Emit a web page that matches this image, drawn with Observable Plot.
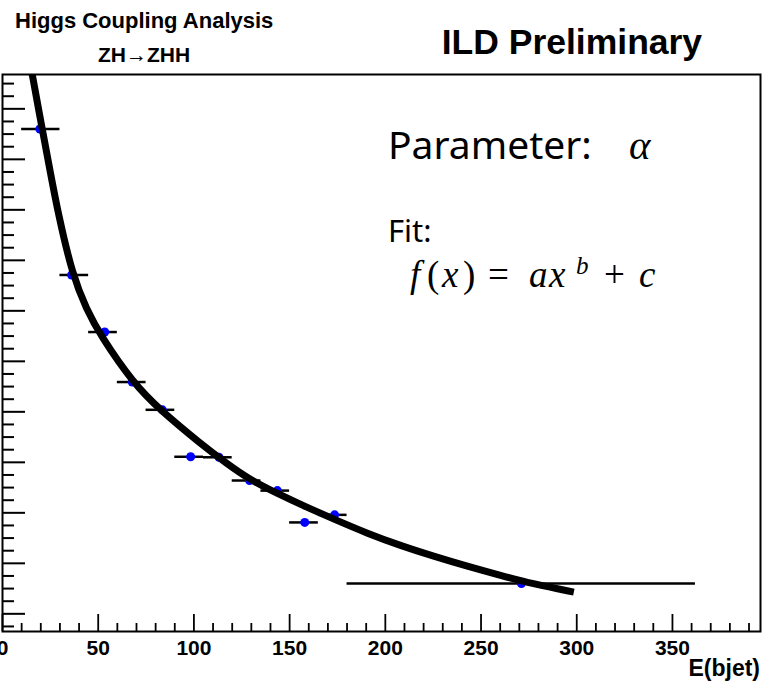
<!DOCTYPE html>
<html>
<head>
<meta charset="utf-8">
<script src="https://cdn.jsdelivr.net/npm/d3@7"></script>
<script src="https://cdn.jsdelivr.net/npm/@observablehq/plot@0.6"></script>
<style>
  body { margin: 0; background: #fff; }
  svg { display: block; }
</style>
</head>
<body>
<div id="chart"></div>
<script>
// ---- data ----
// bins of E(bjet) (horizontal error bars), mean E in bin, parameter value
const binLow  = [10, 30, 45, 60, 75, 90, 105, 120, 135, 150, 165, 180];
const binHigh = [30, 45, 60, 75, 90, 105, 120, 135, 150, 165, 180, 362];
const xMean   = [19.5, 36.1, 53.4, 67.8, 83.5, 98.3, 113.1, 129.1, 143.6, 157.9, 173.5, 271.1];
const yValue  = [1.060, 0.771, 0.658, 0.559, 0.504, 0.411, 0.410, 0.364, 0.344, 0.281, 0.296, 0.160];

// fitted curve f(x) = a x^b + c
const curveX = [15.15, 20.74, 24.82, 29.26, 36.57, 43.89, 51.20, 68.44, 82.55, 103.45, 117.40, 129.05, 143.67, 158.30, 173.46, 190.70, 207.94, 225.18, 242.95, 260.19, 277.43, 298.48];
const curveY = [1.176, 1.060, 0.978, 0.889, 0.771, 0.703, 0.651, 0.556, 0.503, 0.437, 0.397, 0.366, 0.338, 0.312, 0.287, 0.259, 0.235, 0.214, 0.194, 0.176, 0.159, 0.143];

// axis ticks
const xMajor = [0, 50, 100, 150, 200, 250, 300, 350];
const xMinor = [10,20,30,40,60,70,80,90,110,120,130,140,160,170,180,190,210,220,230,240,260,270,280,290,310,320,330,340,360,370,380,390];
const yMajor = [0.1, 0.2, 0.3, 0.4, 0.5, 0.6, 0.7, 0.8, 0.9, 1.0, 1.1];
const yMinor = [0.075, 0.125, 0.15, 0.175, 0.225, 0.25, 0.275, 0.325, 0.35, 0.375, 0.425, 0.45, 0.475,
                0.525, 0.55, 0.575, 0.625, 0.65, 0.675, 0.725, 0.75, 0.775, 0.825, 0.85, 0.875,
                0.925, 0.95, 0.975, 1.025, 1.05, 1.075, 1.125, 1.15];

const points = binLow.map((lo, i) => ({lo, hi: binHigh[i], x: xMean[i], y: yValue[i]}));
const curve = curveX.map((x, i) => ({x, y: curveY[i]}));

const FONT = "'Liberation Sans', Arial, Helvetica, sans-serif";
const SERIF = "'Liberation Serif', 'DejaVu Serif', serif";
const GOTHIC = "'Noto Sans', 'Open Sans', sans-serif";

const chart = Plot.plot({
  width: 763,
  height: 688,
  marginLeft: 2,
  marginRight: 3,
  marginTop: 74,
  marginBottom: 57,
  x: {domain: [0, 396], label: null},
  y: {domain: [0.065, 1.168], label: null},
  style: {fontFamily: FONT, background: "white", color: "black"},
  marks: [
    Plot.axisX(xMinor, {tickSize: -8, fill: "none", strokeWidth: 1.8}),
    Plot.axisX(xMajor, {tickSize: -17, fill: "none", strokeWidth: 1.8}),
    Plot.axisX(xMajor, {tickSize: 0, tickPadding: 9, fontSize: 21, fontWeight: "bold", label: null}),
    Plot.axisY(yMinor, {tickSize: -12, fill: "none", strokeWidth: 2}),
    Plot.axisY(yMajor, {tickSize: -23, fill: "none", strokeWidth: 2}),
    Plot.ruleY(points, {x1: "lo", x2: "hi", y: "y", stroke: "black", strokeWidth: 2.5, clip: true}),
    Plot.dot(points, {x: "x", y: "y", r: 4.5, fill: "blue", stroke: "none"}),
    Plot.line(curve, {x: "x", y: "y", curve: "basis", stroke: "black", strokeWidth: 7, strokeLinecap: "butt", clip: true}),
    Plot.frame({stroke: "black", strokeWidth: 2})
  ]
});

document.getElementById("chart").appendChild(chart);

const svg = d3.select(chart);
function addText(x, y, str, opts = {}) {
  const t = svg.append("text")
    .attr("x", x).attr("y", y)
    .attr("font-family", opts.family || FONT)
    .attr("font-size", opts.size || 20)
    .attr("font-weight", opts.weight || "normal")
    .attr("text-anchor", opts.anchor || "start")
    .attr("fill", "black")
    .text(str);
  if (opts.italic) t.attr("font-style", "italic");
  return t;
}

addText(15, 28.3, "Higgs Coupling Analysis", {size: 22, weight: "bold"});
addText(144, 61.7, "ZH\u2192ZHH", {size: 21, weight: "bold", anchor: "middle"});
addText(441.7, 54.3, "ILD Preliminary", {size: 35.5, weight: "bold"});
addText(760, 676, "E(bjet)", {size: 23, weight: "bold", anchor: "end"});

addText(388, 159.3, "Parameter:", {size: 39, family: GOTHIC});
addText(629, 159.3, "\u03B1", {size: 41, family: SERIF, italic: true});
addText(388, 241.7, "Fit:", {size: 31, family: GOTHIC});

// formula f(x) = a x^b + c, glyph groups placed as in the picture
const formula = [
  {s: "f", x: 410, italic: true},
  {s: "(", x: 427},
  {s: "x", x: 442, italic: true},
  {s: ")", x: 463},
  {s: "=", x: 488},
  {s: "a", x: 529, italic: true},
  {s: "x", x: 549, italic: true},
  {s: "b", x: 576, italic: true, size: 25, dy: -13},
  {s: "+", x: 604},
  {s: "c", x: 639, italic: true}
];
for (const g of formula) {
  addText(g.x, 286.5 + (g.dy || 0), g.s, {size: g.size || 37, family: SERIF, italic: !!g.italic});
}
</script>
</body>
</html>
